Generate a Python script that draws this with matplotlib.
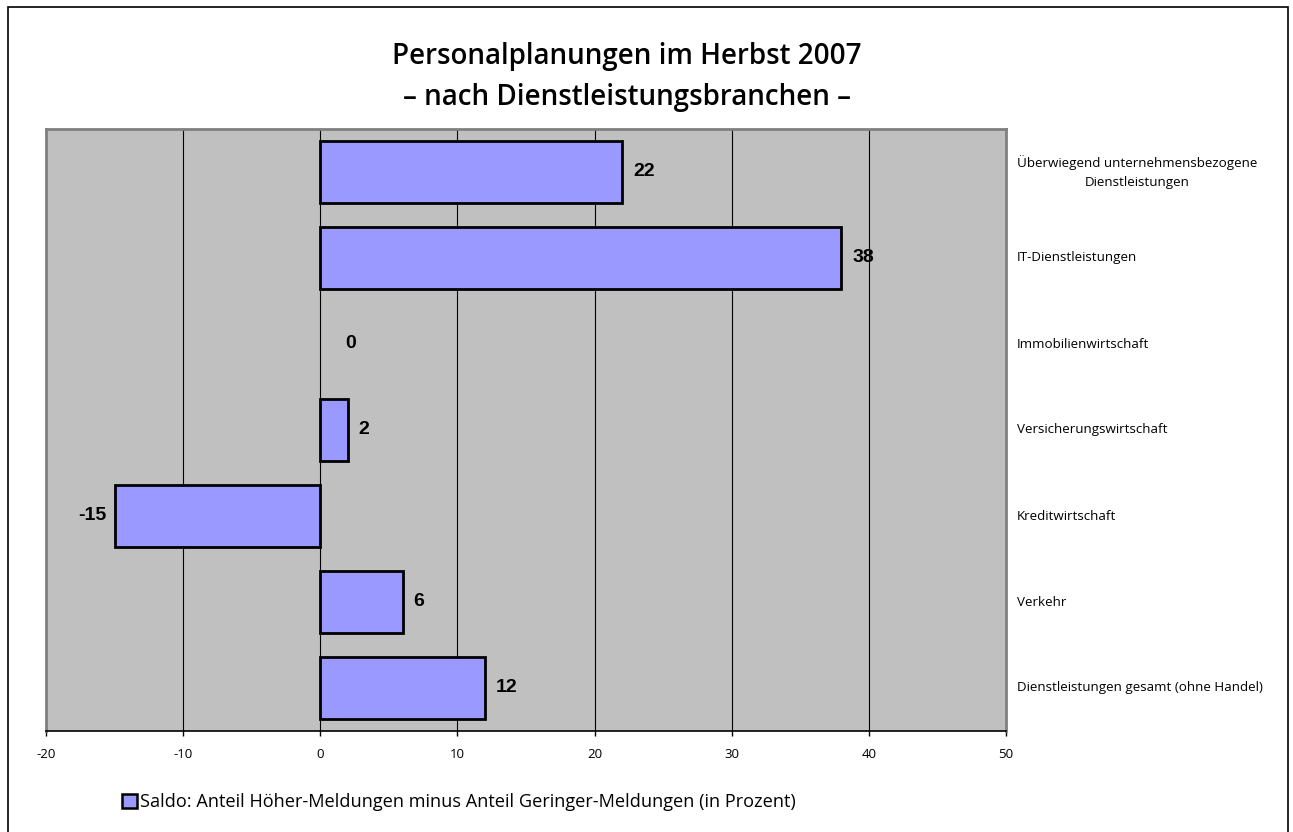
import matplotlib
matplotlib.use('Agg')
import matplotlib.pyplot as plt
from matplotlib.patches import Rectangle, Patch

# data, top to bottom as in the chart
branchen = ['Überwiegend unternehmensbezogene\nDienstleistungen',
            'IT-Dienstleistungen',
            'Immobilienwirtschaft',
            'Versicherungswirtschaft',
            'Kreditwirtschaft',
            'Verkehr',
            'Dienstleistungen gesamt (ohne Handel)']
saldo = [22, 38, 0, 2, -15, 6, 12]
xticks = [-20, -10, 0, 10, 20, 30, 40, 50]

FONT = 'Open Sans'
W, H = 1293, 832
fig = plt.figure(figsize=(W / 100, H / 100), dpi=100)
ax = fig.add_axes([46 / W, 1 - 731 / H, (1006 - 46) / W, (731 - 129) / H])

ypos = list(range(len(saldo)))
ax.barh(ypos, saldo, height=0.71, color='#9999FF', edgecolor='black',
        linewidth=[2 if v != 0 else 0 for v in saldo], zorder=3)
ax.set_ylim(len(saldo) - 0.5, -0.5)
ax.set_xlim(-20, 50)
ax.set_facecolor('#C0C0C0')

ax.set_xticks(xticks)
ax.set_xticklabels([str(t) for t in xticks], fontsize=9.5, family=FONT)
ax.tick_params(axis='x', direction='out', length=3.5, width=1, pad=9)
ax.set_yticks([])
ax.xaxis.grid(True, color='black', linewidth=0.8, zorder=0)
ax.set_axisbelow(True)

for side in ['top', 'left', 'right']:
    ax.spines[side].set_color('#808080')
    ax.spines[side].set_linewidth(2)
ax.spines['bottom'].set_color('black')
ax.spines['bottom'].set_linewidth(1.2)
ax.spines['bottom'].set_zorder(4)

# value labels
for y, v in zip(ypos, saldo):
    if v < 0:
        ax.annotate(str(v), (v, y), xytext=(-6, 0), textcoords='offset points',
                    ha='right', va='center', fontsize=14, fontweight='bold',
                    family='Liberation Sans')
    else:
        off = 8 if v > 0 else 18
        ax.annotate(str(v), (v, y), xytext=(off, 0), textcoords='offset points',
                    ha='left', va='center', fontsize=14, fontweight='bold',
                    family='Liberation Sans')

# category labels on the right
for y, name in zip(ypos, branchen):
    if '\n' in name:
        ax.annotate(name, (1, y), xycoords=('axes fraction', 'data'),
                    xytext=(8, 0), textcoords='offset points', ha='left',
                    va='center', fontsize=9.6, family=FONT, multialignment='center',
                    linespacing=1.55)
    else:
        ax.annotate(name, (1, y), xycoords=('axes fraction', 'data'),
                    xytext=(8, 0), textcoords='offset points', ha='left',
                    va='center', fontsize=9.6, family=FONT)

fig.text(627 / W, 1 - 64 / H, 'Personalplanungen im Herbst 2007',
         ha='center', va='baseline', fontsize=20, fontweight='semibold', family=FONT)
fig.text(627 / W, 1 - 105 / H, '– nach Dienstleistungsbranchen –',
         ha='center', va='baseline', fontsize=20, fontweight='semibold', family=FONT)

fig.legend([Patch(facecolor='#9999FF', edgecolor='black', linewidth=1.8)],
           ['Saldo: Anteil Höher-Meldungen minus Anteil Geringer-Meldungen (in Prozent)'],
           loc='center left', bbox_to_anchor=(122 / W, 1 - 802 / H), frameon=False,
           prop={'family': FONT, 'size': 13.05}, handlelength=0.8, handleheight=0.8,
           handletextpad=0.2, borderpad=0, borderaxespad=0)

fig.patches.append(Rectangle((8 / W, -5 / H), 1280 / W, 830 / H, transform=fig.transFigure,
                             fill=False, edgecolor='black', linewidth=1.2))

fig.savefig('out.png', dpi=100, facecolor='white')
